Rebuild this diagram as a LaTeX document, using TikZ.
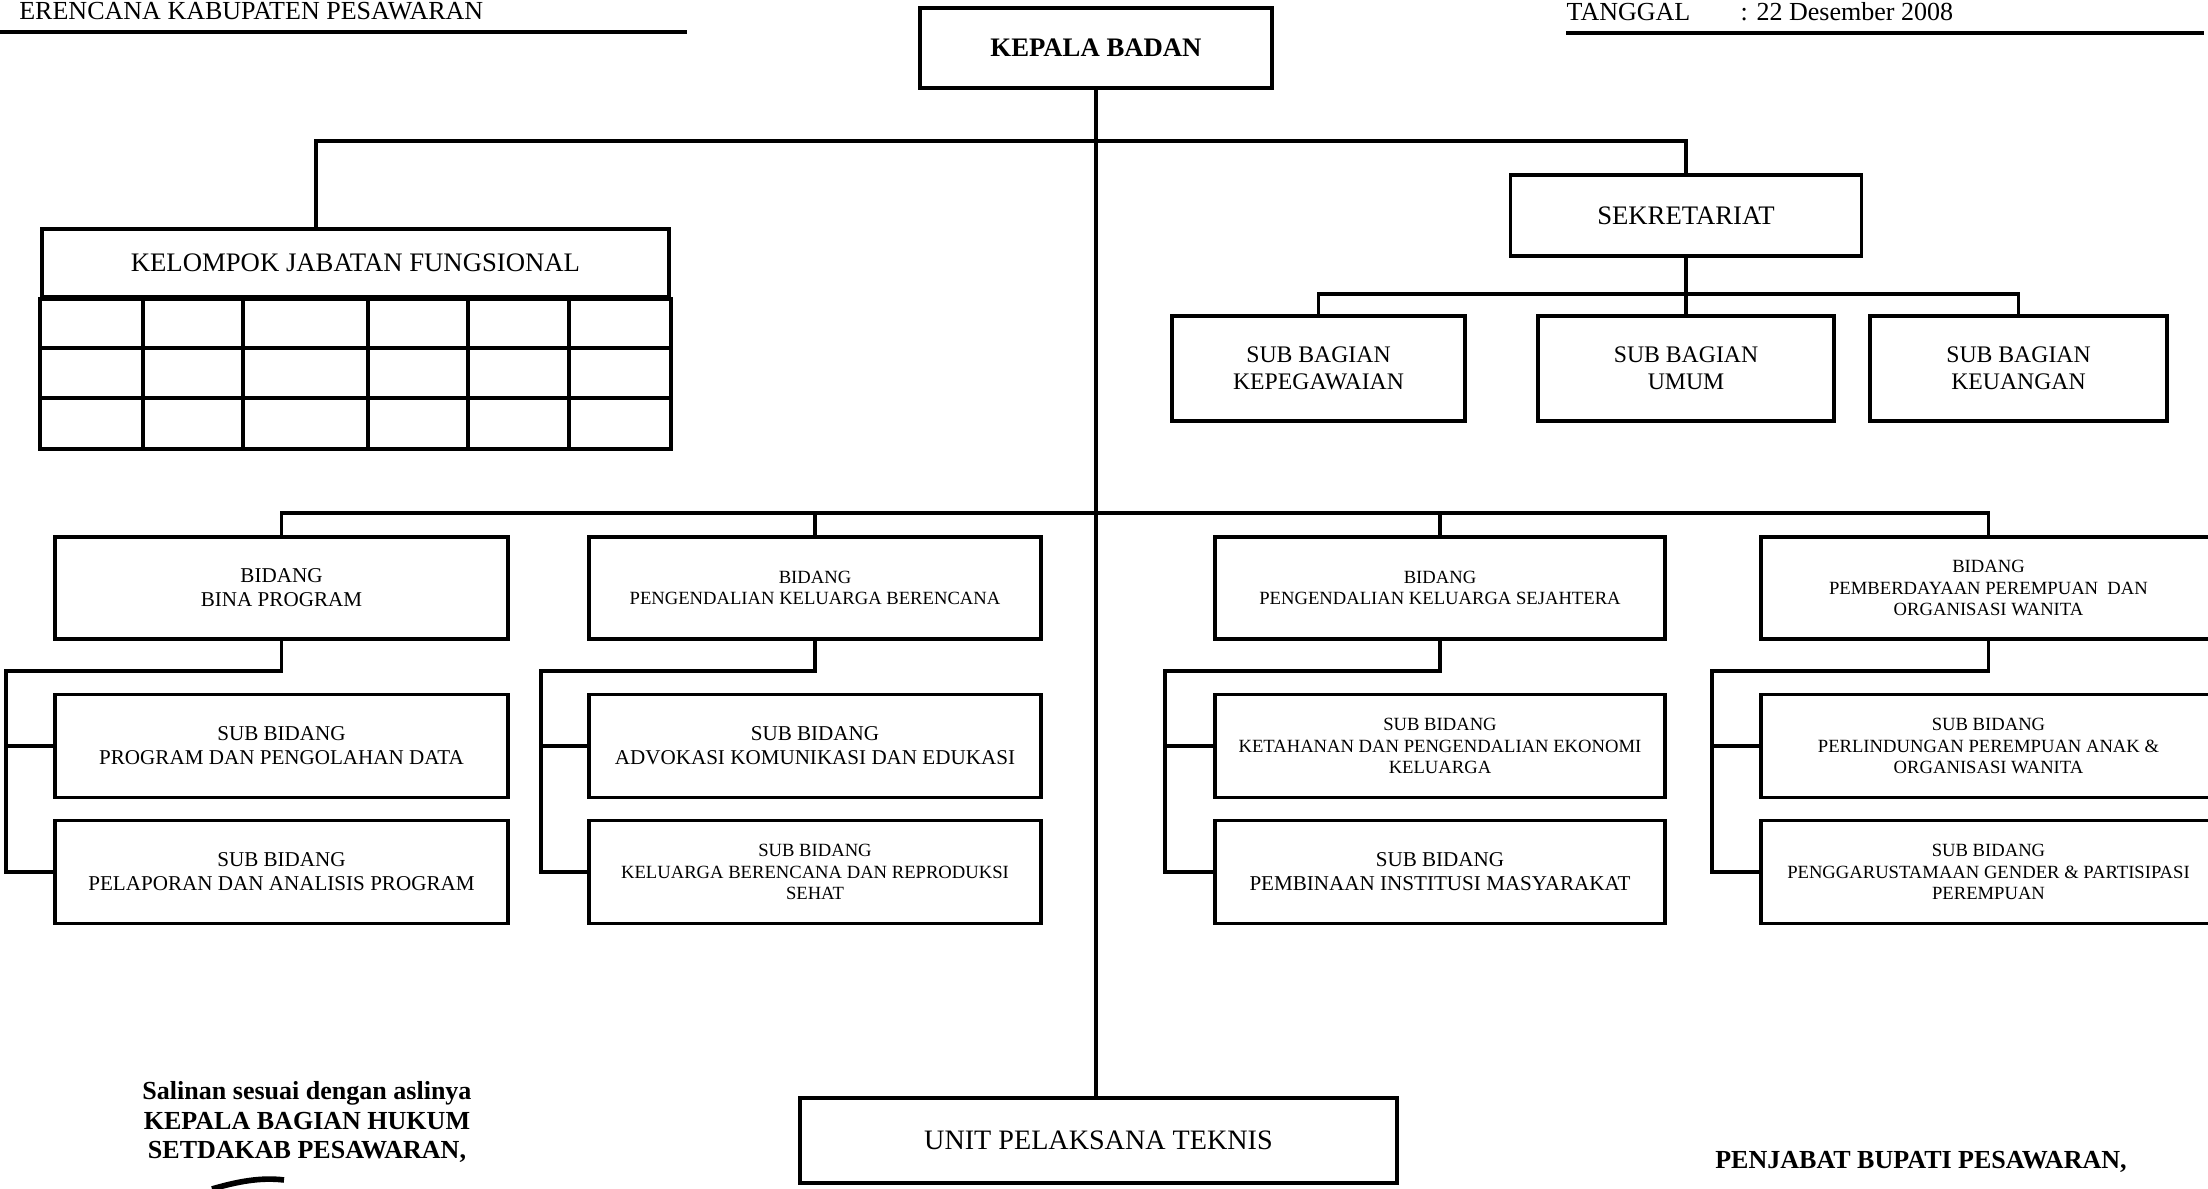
\documentclass[tikz,border=0pt]{standalone}
\usepackage{fontspec}
\setmainfont{Liberation Serif}
\usepackage{tikz}
\usetikzlibrary{positioning,calc}

\newcommand{\fsHead}{\fontsize{7.4}{8.6}\selectfont}
\newcommand{\fsTop}{\fontsize{7.6}{9}\selectfont}
\newcommand{\fsUnit}{\fontsize{8}{9.6}\selectfont}
\newcommand{\fsBag}{\fontsize{6.75}{7.6}\selectfont}
\newcommand{\fsMid}{\fontsize{6}{6.8}\selectfont}
\newcommand{\fsSmall}{\fontsize{5.3}{6.2}\selectfont}
\newcommand{\fsSign}{\fontsize{7.4}{8.5}\selectfont\bfseries}

\begin{document}
\begin{tikzpicture}[
    x=0.01cm, y=-0.01cm,
    box/.style={draw, line width=1pt, align=center, inner sep=0pt},
    link/.style={line width=0.9pt},
    bidbox/.style={box, minimum height=1.02cm},
    subbox/.style={box, minimum height=1.03cm}
  ]
  \useasboundingbox (0,0) rectangle (2208,1189);

  % Header
  \node[anchor=base east, inner sep=0pt, font=\fsHead] (hdl) at (484,20) {ERENCANA KABUPATEN PESAWARAN};
  \draw[link] (0,32) -- (687,32);
  \node[anchor=base west, inner sep=0pt, font=\fsHead] (tgl) at (1566,21) {TANGGAL};
  \node[anchor=base west, inner sep=0pt, font=\fsHead] (tglval) at (1740,21) {: 22 Desember 2008};
  \draw[link] (1566,33) -- (2204,33);

  % Kepala and sekretariat
  \node[box, minimum width=3.52cm, minimum height=0.8cm, font=\fsTop\bfseries] (kepala) at (1096,48) {KEPALA BADAN};
  \node[box, minimum width=3.51cm, minimum height=0.81cm, font=\fsTop] (sekr) at (1686,215.5) {SEKRETARIAT};
  \node[box, minimum width=2.93cm, minimum height=1.05cm, font=\fsBag] (sbpeg) at (1318.5,368.5) {SUB BAGIAN\\KEPEGAWAIAN};
  \node[box, minimum width=2.96cm, minimum height=1.05cm, font=\fsBag] (sbumum) at (1686,368.5) {SUB BAGIAN\\UMUM};
  \node[box, minimum width=2.97cm, minimum height=1.05cm, font=\fsBag] (sbkeu) at (2018.5,368.5) {SUB BAGIAN\\KEUANGAN};

  % Kelompok jabatan fungsional
  \node[box, minimum width=6.27cm, minimum height=0.68cm, font=\fsTop] (kjf) at (355.5,263) {KELOMPOK JABATAN FUNGSIONAL};
  \draw[line width=1pt] (kjf.south west) rectangle (kjf.south east |- 0,449);
  \foreach \y in {348,398}
    \draw[line width=1pt] (42,\y) -- (669,\y);
  \foreach \x in {143,243,368,468,569}
    \draw[line width=1pt] (\x,297) -- (\x,449);

  % Bidang
  \node[bidbox, minimum width=4.53cm, font=\fsMid] (bid1) at (281.5,588) {BIDANG\\BINA PROGRAM};
  \node[bidbox, minimum width=4.52cm, font=\fsSmall] (bid2) at (815,588) {BIDANG\\PENGENDALIAN KELUARGA BERENCANA};
  \node[bidbox, minimum width=4.50cm, font=\fsSmall] (bid3) at (1440,588) {BIDANG\\PENGENDALIAN KELUARGA SEJAHTERA};
  \node[bidbox, minimum width=4.55cm, font=\fsSmall] (bid4) at (1988.5,588) {BIDANG\\PEMBERDAYAAN PEREMPUAN\ \ DAN\\ORGANISASI WANITA};

  % Sub bidang
  \node[subbox, minimum width=4.53cm, font=\fsMid] (sub1-1) at (281.5,746) {SUB BIDANG\\PROGRAM DAN PENGOLAHAN DATA};
  \node[subbox, minimum width=4.53cm, font=\fsMid] (sub1-2) at (281.5,872) {SUB BIDANG\\PELAPORAN DAN ANALISIS PROGRAM};
  \node[subbox, minimum width=4.52cm, font=\fsMid] (sub2-1) at (815,746) {SUB BIDANG\\ADVOKASI KOMUNIKASI DAN EDUKASI};
  \node[subbox, minimum width=4.52cm, font=\fsSmall] (sub2-2) at (815,872) {SUB BIDANG\\KELUARGA BERENCANA DAN REPRODUKSI\\SEHAT};
  \node[subbox, minimum width=4.50cm, font=\fsSmall] (sub3-1) at (1440,746) {SUB BIDANG\\KETAHANAN DAN PENGENDALIAN EKONOMI\\KELUARGA};
  \node[subbox, minimum width=4.50cm, font=\fsMid] (sub3-2) at (1440,872) {SUB BIDANG\\PEMBINAAN INSTITUSI MASYARAKAT};
  \node[subbox, minimum width=4.55cm, font=\fsSmall] (sub4-1) at (1988.5,746) {SUB BIDANG\\PERLINDUNGAN PEREMPUAN ANAK \&\\ORGANISASI WANITA};
  \node[subbox, minimum width=4.55cm, font=\fsSmall] (sub4-2) at (1988.5,872) {SUB BIDANG\\PENGGARUSTAMAAN GENDER \& PARTISIPASI\\PEREMPUAN};

  % Unit pelaksana teknis
  \node[box, minimum width=5.97cm, minimum height=0.85cm, font=\fsUnit] (unit) at (1098.5,1140.5) {UNIT PELAKSANA TEKNIS};

  % Connectors
  \coordinate (topbus) at (1096,141);
  \coordinate (sekbus) at (1686,294);
  \coordinate (bidbus) at (1096,513);
  \draw[link] (kepala.south) -- (unit.north -| kepala.south);
  \draw[link] ([xshift=-0.395cm]kjf.north) |- (topbus) -| (sekr.north);
  \draw[link] (sekr.south) -- (sbumum.north);
  \draw[link] (sbpeg.north) |- (sekbus) -| (sbkeu.north);
  \draw[link] (bid1.north) |- (bidbus) -| (bid4.north);
  \draw[link] (bid2.north) -- (bid2.north |- bidbus);
  \draw[link] (bid3.north) -- (bid3.north |- bidbus);
  \foreach \c/\sx in {1/6,2/541,3/1165,4/1712} {
    \coordinate (sp\c) at (\sx,671);
    \draw[link] (bid\c.south) |- (sp\c) |- (sub\c-2.west);
    \draw[link] (sub\c-1.west) -- (sub\c-1.west -| sp\c);
  }

  % Signatures
  \node[align=center, font=\fsSign] (salinan) at (307,1122) {Salinan sesuai dengan aslinya\\KEPALA BAGIAN HUKUM\\SETDAKAB PESAWARAN,};
  \node[font=\fsSign] (bupati) at (1921,1162) {PENJABAT BUPATI PESAWARAN,};
  \draw[line width=1.6pt] (212,1189) .. controls (236,1182) and (260,1177) .. (284,1180);
\end{tikzpicture}
\end{document}
